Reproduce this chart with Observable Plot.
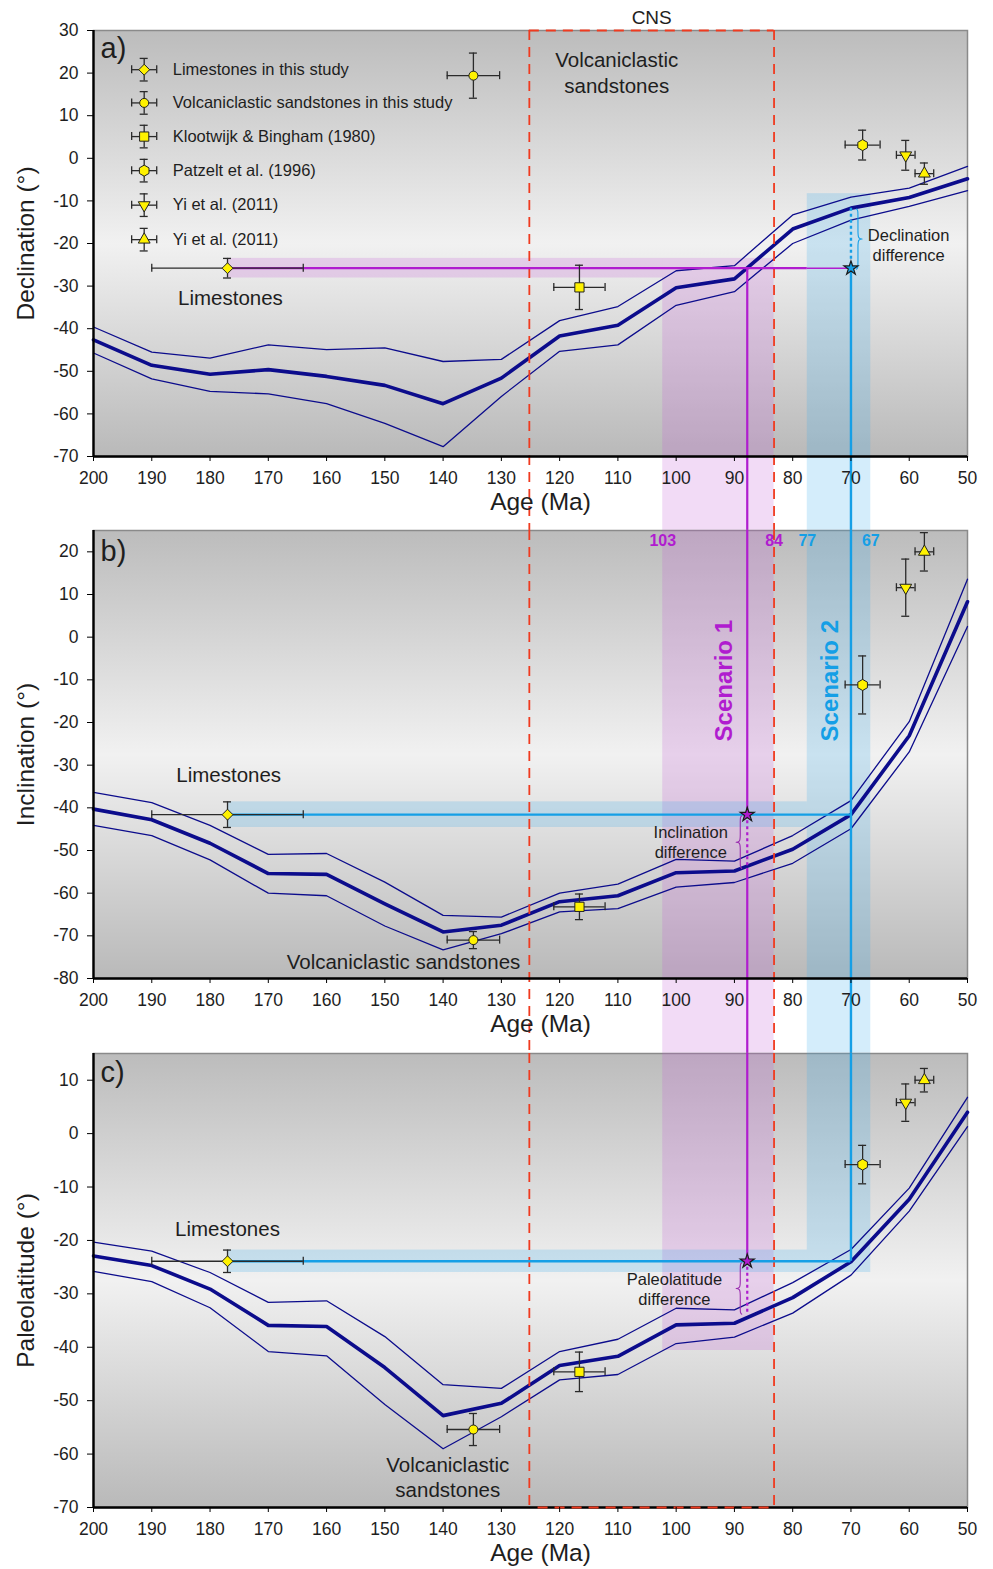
<!DOCTYPE html>
<html><head><meta charset="utf-8">
<script src="https://cdn.jsdelivr.net/npm/d3@7"></script>
<script src="https://cdn.jsdelivr.net/npm/@observablehq/plot@0.6"></script>
<style>
body{margin:0;background:#fff;font-family:"Liberation Sans",Arial,sans-serif;}
#chart{width:993px;}
#chart svg{display:block;overflow:visible;}
</style></head><body><div id="chart"></div>
<script>
// ---------------- data ----------------
const ages = [200,190,180,170,160,150,140,130,120,110,100,90,80,70,60,50];
const decMean  = [-42.6,-48.6,-50.7,-49.6,-51.2,-53.3,-57.6,-51.6,-41.7,-39.2,-30.4,-28.3,-16.6,-11.7,-9.2,-4.8];
const decUpper = [-39.6,-45.5,-46.9,-43.8,-44.9,-44.5,-47.7,-47.2,-38.1,-34.8,-26.4,-25.2,-13.3,-9.1,-7.0,-1.9];
const decLower = [-45.7,-51.8,-54.7,-55.3,-57.6,-62.2,-67.7,-55.9,-45.3,-43.8,-34.5,-31.3,-20.0,-14.5,-11.3,-7.6];
const incMean  = [-40.3,-42.8,-48.3,-55.4,-55.6,-62.5,-69.1,-67.5,-62.0,-60.6,-55.2,-54.8,-49.7,-41.6,-23.1,8.3];
const incUpper = [-36.4,-38.8,-44.1,-50.9,-50.7,-57.4,-65.2,-65.6,-60.0,-57.9,-52.1,-52.5,-46.5,-38.3,-19.8,13.6];
const incLower = [-44.1,-46.5,-52.2,-60.0,-60.6,-67.7,-73.3,-69.5,-64.4,-63.6,-58.6,-57.5,-53.0,-44.9,-26.9,2.5];
const latMean  = [-22.9,-24.7,-29.1,-35.9,-36.1,-43.8,-52.8,-50.5,-43.4,-41.7,-35.8,-35.5,-30.7,-24.0,-12.3,4.0];
const latUpper = [-20.3,-22.0,-26.0,-31.6,-31.3,-38.0,-47.0,-47.7,-40.8,-38.5,-32.7,-33.0,-27.9,-21.7,-10.2,6.8];
const latLower = [-25.8,-27.7,-32.6,-40.8,-41.6,-50.7,-59.0,-53.0,-46.1,-45.1,-39.3,-38.1,-33.6,-26.5,-14.5,1.3];

const sources = ["Limestones in this study","Volcaniclastic sandstones in this study","Klootwijk & Bingham (1980)","Patzelt et al. (1996)","Yi et al. (2011)","Yi et al. (2011)"];
const markerSymbols = ["diamond2","circle","square","hexagon","triangle","triangle"];
const markerRotate = [0,0,0,0,180,0];
const pointAge = [177, 134.8, 116.6, 68, 60.6, 57.4];
const ageErr   = [13, 4.5, 4.4, 3, 1.6, 1.6];
const decVal = [-25.8, 19.4, -30.3, 3.1, 0.7, -3.6];
const decErr = [2.3, 5.3, 5.2, 3.5, 3.5, 2.5];
const incVal = [-41.6, -71.0, -63.2, -11.2, 11.6, 20.0];
const incErr = [3.0, 2.0, 3.0, 6.8, 6.7, 4.5];
const latVal = [-23.9, -55.4, -44.6, -5.8, 5.8, 10.0];
const latErr = [2.1, 3.0, 3.7, 3.6, 3.5, 2.2];

const cnsRange = [125.2, 83.2];
const scenario1Age = 87.8, scenario2Age = 70;
const scenario1Range = [102.3, 83.2], scenario1Labels = ["103","84"];
const scenario2Range = [77.5, 66.6],  scenario2Labels = ["77","67"];
const decCurveAtS2 = -11.7, incCurveAtS1 = -54.2, latCurveAtS1 = -33.8;
const scenario2TopDec = -8.3, scenario1BottomLat = -40.6;

// ---------------- style / layout ----------------
const W = 993, ML = 93, MR = 26;
const FONT = '"Liberation Sans", Arial, Helvetica, sans-serif';
const NAVY="#0c0c8c", PURPLE="#b01ccf", BLUE="#159fe6", RED="#f03a1f", YELLOW="#fff200", INK="#1e1e1e";
const PBAND="#c35ad8", BBAND="#3aaeee", BOP=0.22;
const symbolR = {diamond2:4.9, circle:4.5, square:5.2, hexagon:4.8, triangle:4.4};

const R  = (d, o) => Plot.rect([d], {x1:"x1", x2:"x2", y1:"y1", y2:"y2", ...o});
const VL = (d, o) => Plot.ruleX([d], {x:"x", y1:"y1", y2:"y2", ...o});
const HL = (d, o) => Plot.ruleY([d], {y:"y", x1:"x1", x2:"x2", ...o});
const T  = (d, o) => Plot.text([d], {x:"x", y:"y", text:"t", fontFamily:FONT, fill:INK, ...o});

function braceMark(x, yTop, yBot, side, color) {
  const off = 0.95, w = 1.3;
  const x0 = x - side*off, x1 = x - side*(off+0.25), x2 = x - side*(off+w);
  const h = yTop - yBot, m = (yTop+yBot)/2, k = 0.12*h;
  const pts = [[x0,yTop],[x1,yTop-0.02*h],[x1,yTop-k],[x1,m+k],[x1,m],[x2,m],[x1,m],[x1,m-k],[x1,yBot+k],[x1,yBot+0.02*h],[x0,yBot]];
  return Plot.line(pts, {x:d=>d[0], y:d=>d[1], curve:"basis", stroke:color, strokeWidth:1.1});
}

function errorBarMarks(pts) {
  const st = {stroke:"#2a2a2a", strokeWidth:1.3};
  return [
    Plot.ruleY(pts, {y:"y", x1:d=>d.x+d.ex, x2:d=>d.x-d.ex, ...st}),
    Plot.ruleX(pts, {x:"x", y1:d=>d.y+d.ey, y2:d=>d.y-d.ey, ...st}),
    Plot.ruleX(pts, {x:d=>d.x+d.ex, y1:"y", y2:"y", insetTop:-4, insetBottom:-4, ...st}),
    Plot.ruleX(pts, {x:d=>d.x-d.ex, y1:"y", y2:"y", insetTop:-4, insetBottom:-4, ...st}),
    Plot.ruleY(pts, {y:d=>d.y+d.ey, x1:"x", x2:"x", insetLeft:-4, insetRight:-4, ...st}),
    Plot.ruleY(pts, {y:d=>d.y-d.ey, x1:"x", x2:"x", insetLeft:-4, insetRight:-4, ...st}),
    ...pts.map(p => Plot.dot([p], {x:"x", y:"y", symbol:p.sym, r:symbolR[p.sym], rotate:p.rot, fill:YELLOW, stroke:"#222", strokeWidth:1}))
  ];
}
function pointMarks(vals, errs) {
  return errorBarMarks(pointAge.map((a,i)=>({x:a, y:vals[i], ex:ageErr[i], ey:errs[i], sym:markerSymbols[i], rot:markerRotate[i]})));
}
function curveMarks(mean, upper, lower) {
  const rows = ages.map((a,i)=>({a, m:mean[i], u:upper[i], l:lower[i]}));
  return [
    Plot.line(rows, {x:"a", y:"u", stroke:NAVY, strokeWidth:1.3}),
    Plot.line(rows, {x:"a", y:"l", stroke:NAVY, strokeWidth:1.3}),
    Plot.line(rows, {x:"a", y:"m", stroke:NAVY, strokeWidth:3.6})
  ];
}
const star = (x, y, fill) => Plot.dot([{x,y}], {x:"x", y:"y", symbol:"star", r:4.4, fill, stroke:"#1a1a1a", strokeWidth:1.2});

function addGradient(svg, id) {
  const g = d3.select(svg).insert("defs", ":first-child").append("linearGradient")
    .attr("id", id).attr("x1",0).attr("y1",0).attr("x2",0).attr("y2",1);
  [[0,"#bcbcbc"],[0.5,"#f1f1f1"],[1,"#b9b9b9"]].forEach(([o,c]) => g.append("stop").attr("offset",o).attr("stop-color",c));
  let f = svg.querySelector('[aria-label="frame"]');
  if (f && f.tagName.toLowerCase() !== "rect") f = f.querySelector("rect") || f;
  if (f) f.setAttribute("fill", `url(#${id})`);
}

function panel(cfg) {
  const [y0, y1] = cfg.yDomain;
  const svg = Plot.plot({
    width: W, height: cfg.height, marginLeft: ML, marginRight: MR, marginTop: cfg.mt, marginBottom: cfg.mb,
    x: {domain: [200, 50]}, y: {domain: cfg.yDomain},
    style: {fontFamily: FONT, background: "transparent", overflow: "visible", color: INK},
    marks: [
      Plot.frame({fill:"#dddddd", stroke:"#8a8a8a", strokeWidth:1.5}),
      ...cfg.bands,
      ...curveMarks(cfg.mean, cfg.upper, cfg.lower),
      VL({x:cnsRange[0], y1:y1, y2:y0}, {stroke:RED, strokeWidth:1.8, strokeDasharray:"10,7", insetBottom:-cfg.gap}),
      VL({x:cnsRange[1], y1:y1, y2:y0}, {stroke:RED, strokeWidth:1.8, strokeDasharray:"10,7", insetBottom:-cfg.gap}),
      ...cfg.lines,
      ...pointMarks(cfg.vals, cfg.errs),
      ...cfg.top,
      Plot.ruleX([200], {stroke:"#000", strokeWidth:2.4}),
      Plot.ruleY([y0], {stroke:"#000", strokeWidth:2.4}),
      ...(cfg.after || []),
      Plot.axisY({ticks: d3.range(y0, y1 + 0.1, 10), tickSize:6, tickPadding:9, fontSize:17.5, label:null, tickFormat:d=>String(d), stroke:"#000", fill:INK}),
      Plot.axisX({ticks: d3.range(50, 201, 10), tickSize:5, tickPadding:10, fontSize:17.5, label:null, tickFormat:d=>String(d), stroke:"#000", fill:INK}),
      Plot.text([cfg.ylabel], {text:d=>d, frameAnchor:"left", rotate:-90, dx:-67, fontSize:24.5, textAnchor:"middle", lineAnchor:"middle", fill:INK}),
      Plot.text(["Age (Ma)"], {text:d=>d, frameAnchor:"bottom", dx:10, dy:46, fontSize:24.5, textAnchor:"middle", lineAnchor:"middle", fill:INK}),
      Plot.text([cfg.letter], {text:d=>d, frameAnchor:"top-left", dx:7, dy:cfg.letterDy, fontSize:29, textAnchor:"start", lineAnchor:"middle", fill:INK})
    ]
  });
  addGradient(svg, "grad-" + cfg.letter.replace(")", ""));
  return svg;
}

// ---------------- panel a : declination ----------------
const lime = 0;
const gapA = 74, gapB = 75;
const legend = {x:191.3, tx:186.4, rows:[20.8, 13.0, 5.1, -2.9, -11.0, -19.1], ex:2.15, ey:2.65};
const legendPts = sources.map((s,i)=>({x:legend.x, y:legend.rows[i], ex:legend.ex, ey:legend.ey, sym:markerSymbols[i], rot:markerRotate[i], s}));

const panelA = panel({
  letter:"a)", letterDy:18, height:530, mt:30, mb:74, gap:gapA, yDomain:[-70,30], ylabel:"Declination (°)",
  mean:decMean, upper:decUpper, lower:decLower, vals:decVal, errs:decErr,
  bands: [
    R({x1:pointAge[lime], x2:scenario1Range[0], y1:decVal[lime]+decErr[lime], y2:decVal[lime]-decErr[lime]}, {fill:PBAND, fillOpacity:BOP}),
    R({x1:scenario1Range[0], x2:scenario1Range[1], y1:decVal[lime]+decErr[lime], y2:-70}, {fill:PBAND, fillOpacity:BOP, insetBottom:-gapA}),
    R({x1:scenario2Range[0], x2:scenario2Range[1], y1:scenario2TopDec, y2:-70}, {fill:BBAND, fillOpacity:BOP, insetBottom:-gapA})
  ],
  lines: [
    HL({y:30, x1:cnsRange[0], x2:cnsRange[1]}, {stroke:RED, strokeWidth:1.8, strokeDasharray:"10,7"}),
    HL({y:decVal[lime], x1:pointAge[lime], x2:scenario2Range[0]}, {stroke:PURPLE, strokeWidth:2.2}),
    HL({y:decVal[lime], x1:scenario2Range[0], x2:scenario2Age}, {stroke:PURPLE, strokeWidth:1.5}),
    VL({x:scenario1Age, y1:decVal[lime], y2:-70}, {stroke:PURPLE, strokeWidth:2.2, insetBottom:-gapA}),
    VL({x:scenario2Age, y1:decVal[lime], y2:-70}, {stroke:BLUE, strokeWidth:2.4, insetBottom:-gapA}),
    VL({x:scenario2Age, y1:decCurveAtS2, y2:decVal[lime]}, {stroke:BLUE, strokeWidth:2.4, strokeDasharray:"3,3"}),
    braceMark(scenario2Age, decCurveAtS2 - 0.2, decVal[lime] - 0.2, 1, BLUE)
  ],
  top: [
    star(scenario2Age, decVal[lime], BLUE),
    ...errorBarMarks(legendPts),
    Plot.text(legendPts, {x:legend.tx, y:"y", text:"s", textAnchor:"start", fontSize:16.5, fill:INK}),
    T({x:110.2, y:20.35, t:"Volcaniclastic\nsandstones"}, {fontSize:20.5, lineHeight:1.25}),
    T({x:176.5, y:-32.9, t:"Limestones"}, {fontSize:20.5}),
    T({x:60.1, y:-20.25, t:"Declination\ndifference"}, {fontSize:16.5, lineHeight:1.2}),
    Plot.text([{x:(cnsRange[0]+cnsRange[1])/2, t:"CNS"}], {x:"x", text:"t", frameAnchor:"top", dy:-13, lineAnchor:"middle", fontSize:19, fill:INK})
  ]
});

// ---------------- panel b : inclination ----------------
const panelB = panel({
  letter:"b)", letterDy:21, height:523, mt:0, mb:75, gap:gapB, yDomain:[-80,25], ylabel:"Inclination (°)",
  mean:incMean, upper:incUpper, lower:incLower, vals:incVal, errs:incErr,
  bands: [
    R({x1:scenario1Range[0], x2:scenario1Range[1], y1:25, y2:-80}, {fill:PBAND, fillOpacity:BOP, insetBottom:-gapB}),
    R({x1:scenario2Range[0], x2:scenario2Range[1], y1:25, y2:-80}, {fill:BBAND, fillOpacity:BOP, insetBottom:-gapB}),
    R({x1:pointAge[lime], x2:scenario2Range[0], y1:incVal[lime]+incErr[lime], y2:incVal[lime]-incErr[lime]}, {fill:BBAND, fillOpacity:BOP})
  ],
  lines: [
    HL({y:incVal[lime], x1:pointAge[lime], x2:scenario2Age}, {stroke:BLUE, strokeWidth:2.4}),
    VL({x:scenario2Age, y1:25, y2:-80}, {stroke:BLUE, strokeWidth:2.4, insetBottom:-gapB}),
    VL({x:scenario1Age, y1:25, y2:incVal[lime]}, {stroke:PURPLE, strokeWidth:2.2}),
    VL({x:scenario1Age, y1:incVal[lime], y2:incCurveAtS1}, {stroke:PURPLE, strokeWidth:2.2, strokeDasharray:"3,3"}),
    VL({x:scenario1Age, y1:incCurveAtS1, y2:-80}, {stroke:PURPLE, strokeWidth:2.2, insetBottom:-gapB}),
    braceMark(scenario1Age, incVal[lime] - 0.3, incCurveAtS1, -1, "#9a2cb0")
  ],
  top: [
    star(scenario1Age, incVal[lime], PURPLE),
    T({x:176.8, y:-32.5, t:"Limestones"}, {fontSize:20.5}),
    T({x:146.8, y:-76.3, t:"Volcaniclastic sandstones"}, {fontSize:20.5}),
    T({x:97.5, y:-48, t:"Inclination\ndifference"}, {fontSize:16.5, lineHeight:1.2}),
    T({x:91.7, y:-10.2, t:"Scenario 1"}, {rotate:-90, fontSize:24, fontWeight:"bold", fill:PURPLE}),
    T({x:73.5, y:-10.2, t:"Scenario 2"}, {rotate:-90, fontSize:24, fontWeight:"bold", fill:BLUE}),
    Plot.text(scenario1Range.map((x,i)=>({x, t:scenario1Labels[i]})), {x:"x", y:()=>22.6, text:"t", fontSize:16, fontWeight:"bold", fill:PURPLE}),
    Plot.text(scenario2Range.map((x,i)=>({x, t:scenario2Labels[i]})), {x:"x", y:()=>22.6, text:"t", fontSize:16, fontWeight:"bold", fill:BLUE})
  ]
});

// ---------------- panel c : paleolatitude ----------------
const panelC = panel({
  letter:"c)", letterDy:19, height:516, mt:0, mb:62, gap:0, yDomain:[-70,15], ylabel:"Paleolatitude (°)",
  mean:latMean, upper:latUpper, lower:latLower, vals:latVal, errs:latErr,
  bands: [
    R({x1:scenario1Range[0], x2:scenario1Range[1], y1:15, y2:scenario1BottomLat}, {fill:PBAND, fillOpacity:BOP}),
    R({x1:scenario2Range[0], x2:scenario2Range[1], y1:15, y2:latVal[lime]+latErr[lime]}, {fill:BBAND, fillOpacity:BOP}),
    R({x1:pointAge[lime], x2:scenario2Range[1], y1:latVal[lime]+latErr[lime], y2:latVal[lime]-latErr[lime]}, {fill:BBAND, fillOpacity:BOP})
  ],
  lines: [
    HL({y:latVal[lime], x1:pointAge[lime], x2:scenario2Age}, {stroke:BLUE, strokeWidth:2.4}),
    VL({x:scenario2Age, y1:15, y2:latVal[lime]}, {stroke:BLUE, strokeWidth:2.4}),
    VL({x:scenario1Age, y1:15, y2:latVal[lime]}, {stroke:PURPLE, strokeWidth:2.2}),
    VL({x:scenario1Age, y1:latVal[lime], y2:latCurveAtS1}, {stroke:PURPLE, strokeWidth:2.2, strokeDasharray:"3,3"}),
    braceMark(scenario1Age, latVal[lime] - 0.3, latCurveAtS1, -1, "#9a2cb0")
  ],
  top: [
    star(scenario1Age, latVal[lime], PURPLE),
    T({x:177, y:-17.9, t:"Limestones"}, {fontSize:20.5}),
    T({x:139.2, y:-64.25, t:"Volcaniclastic\nsandstones"}, {fontSize:20.5, lineHeight:1.22}),
    T({x:100.3, y:-29, t:"Paleolatitude\ndifference"}, {fontSize:16.5, lineHeight:1.2})
  ],
  after: [
    HL({y:-70, x1:cnsRange[0] - 1.5, x2:cnsRange[1]}, {stroke:RED, strokeWidth:2, strokeDasharray:"10,7"})
  ]
});

const chart = document.getElementById("chart");
[panelA, panelB, panelC].forEach(s => chart.appendChild(s));
</script>
</body></html>
